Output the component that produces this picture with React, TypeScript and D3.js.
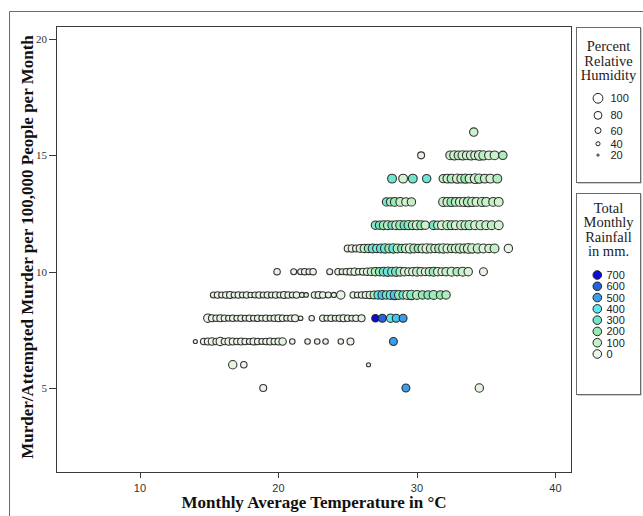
import * as d3 from "d3";

// [temperature °C, relative humidity %, rainfall mm]
type Pt = [number, number, number];

const xTicks = [10, 20, 30, 40];
const yTicks = [5, 10, 15, 20];
const humidityLevels = [100, 80, 60, 40, 20];
const rainLevels = [700, 600, 500, 400, 300, 200, 100, 0];
const rainColors = ["#0b0bdc", "#2462df", "#3d9de8", "#5fe6ee", "#74e6c8", "#98eab4", "#c4f0c6", "#ebf4e7"];

const row5: Pt[] = [[18.9, 70, 0], [29.2, 80, 500], [34.5, 85, 20]];
const row6: Pt[] = [[16.7, 85, 10], [17.5, 65, 0], [26.5, 40, 0]];
const row7: Pt[] = [
  [14.0, 40, 0], [14.6, 65, 0], [14.9, 70, 10], [15.2, 75, 0], [15.5, 65, 0], [15.8, 85, 0], [16.1, 65, 10],
  [16.4, 75, 0], [16.7, 70, 0], [17.0, 65, 0], [17.3, 70, 10], [17.6, 65, 0], [17.9, 60, 0], [18.2, 70, 10],
  [18.5, 65, 0], [18.8, 60, 0], [19.1, 65, 0], [19.4, 70, 10], [19.7, 65, 0], [20.0, 70, 0], [20.3, 75, 20],
  [21.0, 55, 0], [22.1, 55, 0], [22.8, 55, 10], [23.4, 55, 0], [24.5, 55, 0], [25.2, 70, 0], [28.3, 80, 500]
];
const row8: Pt[] = [
  [14.9, 85, 10], [15.2, 70, 0], [15.5, 65, 0], [15.8, 70, 10], [16.1, 65, 0], [16.4, 60, 0], [16.7, 65, 20],
  [17.0, 60, 0], [17.3, 65, 0], [17.6, 60, 10], [17.9, 65, 0], [18.2, 60, 0], [18.5, 65, 10], [18.8, 60, 0],
  [19.1, 65, 0], [19.4, 60, 20], [19.7, 65, 0], [20.0, 70, 10], [20.3, 65, 0], [20.6, 60, 0], [20.9, 65, 10],
  [21.2, 70, 0], [21.6, 45, 0], [22.4, 55, 0], [23.2, 65, 0], [23.5, 60, 10], [23.8, 65, 0], [24.1, 60, 20],
  [24.4, 65, 0], [24.7, 70, 10], [25.0, 65, 0], [25.3, 60, 30], [25.6, 65, 0], [26.0, 70, 10],
  [27.0, 75, 700], [27.5, 80, 600], [28.1, 85, 400], [28.5, 80, 450], [29.0, 80, 500]
];
const row9: Pt[] = [
  [15.3, 60, 0], [15.6, 65, 10], [15.9, 60, 0], [16.2, 65, 0], [16.5, 70, 20], [16.8, 60, 0], [17.1, 65, 10],
  [17.4, 60, 0], [17.7, 65, 0], [18.0, 55, 0], [18.3, 60, 10], [18.6, 65, 0], [18.9, 60, 0], [19.2, 65, 20],
  [19.5, 60, 0], [19.8, 65, 0], [20.1, 60, 10], [20.4, 70, 0], [20.7, 65, 0], [21.0, 60, 20], [21.3, 65, 0],
  [21.7, 50, 0], [22.0, 45, 10], [22.6, 65, 0], [22.9, 70, 10], [23.2, 65, 0], [23.6, 60, 20], [24.0, 50, 0],
  [24.5, 85, 10], [25.4, 65, 0], [25.7, 60, 10], [26.0, 65, 20], [26.3, 70, 0], [26.6, 75, 60], [26.9, 80, 150],
  [27.2, 85, 400], [27.5, 90, 450], [27.8, 85, 300], [28.1, 90, 400], [28.4, 95, 450], [28.7, 90, 200],
  [29.0, 85, 350], [29.3, 90, 100], [29.6, 95, 250], [30.0, 90, 150], [30.4, 85, 200], [30.8, 85, 250],
  [31.2, 90, 180], [31.7, 85, 200], [32.1, 85, 150]
];
const row10: Pt[] = [
  [19.9, 65, 0], [21.1, 60, 0], [21.6, 60, 10], [21.9, 65, 0], [22.2, 60, 20], [22.5, 65, 0], [23.7, 60, 10],
  [24.3, 65, 0], [24.6, 60, 10], [24.9, 65, 0], [25.2, 70, 20], [25.5, 75, 10], [25.8, 65, 0], [26.1, 70, 30],
  [26.4, 75, 20], [26.7, 80, 80], [27.0, 85, 150], [27.3, 85, 200], [27.6, 90, 300], [27.9, 95, 380],
  [28.2, 90, 250], [28.5, 95, 320], [28.8, 90, 150], [29.1, 85, 60], [29.4, 80, 40], [29.7, 85, 20],
  [30.0, 90, 100], [30.3, 85, 60], [30.6, 80, 30], [30.9, 85, 80], [31.2, 90, 200], [31.5, 85, 50],
  [31.8, 80, 20], [32.1, 85, 100], [32.5, 90, 60], [32.9, 85, 150], [33.3, 90, 80], [33.7, 85, 40], [34.8, 80, 10]
];
const row11: Pt[] = [
  [25.0, 70, 0], [25.3, 75, 10], [25.6, 70, 20], [25.9, 80, 40], [26.2, 85, 100], [26.5, 85, 200], [26.8, 90, 350],
  [27.1, 85, 250], [27.4, 90, 400], [27.7, 95, 300], [28.0, 90, 200], [28.3, 95, 350], [28.6, 90, 150],
  [28.9, 85, 250], [29.2, 90, 100], [29.5, 95, 60], [29.8, 90, 150], [30.1, 85, 200], [30.4, 90, 80],
  [30.7, 95, 40], [31.0, 90, 100], [31.3, 85, 60], [31.6, 90, 150], [31.9, 95, 80], [32.2, 90, 40],
  [32.5, 85, 100], [32.8, 90, 60], [33.1, 95, 120], [33.4, 90, 40], [33.7, 100, 80], [34.0, 95, 60],
  [34.4, 95, 100], [34.8, 90, 30], [35.2, 85, 60], [35.6, 90, 100], [36.6, 85, 10]
];
const row12: Pt[] = [
  [27.0, 85, 250], [27.3, 85, 300], [27.6, 90, 200], [27.9, 90, 150], [28.2, 85, 320], [28.5, 90, 100],
  [28.8, 95, 200], [29.1, 90, 300], [29.4, 95, 250], [29.7, 90, 150], [30.0, 95, 100], [30.3, 90, 200],
  [30.6, 85, 80], [31.2, 90, 300], [31.5, 85, 120], [31.8, 90, 60], [32.2, 95, 100], [32.5, 90, 150],
  [32.8, 90, 60], [33.2, 95, 100], [33.5, 90, 80], [33.8, 95, 150], [34.2, 90, 60], [34.6, 95, 100],
  [35.0, 90, 80], [35.4, 90, 120], [35.9, 90, 60]
];
const row13: Pt[] = [
  [27.8, 85, 300], [28.1, 85, 150], [28.4, 90, 200], [28.8, 90, 100], [29.2, 85, 60], [29.6, 85, 100],
  [31.9, 95, 100], [32.2, 90, 60], [32.5, 95, 200], [32.8, 90, 150], [33.1, 90, 80], [33.4, 95, 60],
  [33.7, 100, 150], [34.0, 95, 100], [34.3, 90, 60], [34.7, 95, 120], [35.0, 90, 80], [35.5, 90, 100], [35.9, 90, 60]
];
const row14: Pt[] = [
  [28.2, 90, 320], [29.0, 90, 60], [29.7, 90, 300], [30.7, 85, 350], [31.9, 85, 100], [32.2, 90, 80],
  [32.5, 90, 150], [32.9, 95, 60], [33.2, 90, 100], [33.5, 95, 200], [33.8, 90, 80], [34.2, 100, 60],
  [34.5, 95, 120], [34.9, 90, 100], [35.3, 90, 60], [35.8, 90, 150]
];
const row15: Pt[] = [
  [30.3, 70, 20], [32.4, 90, 100], [32.7, 95, 60], [33.0, 90, 120], [33.3, 95, 80], [33.6, 90, 60],
  [33.9, 95, 100], [34.2, 90, 40], [34.5, 100, 80], [34.8, 95, 120], [35.2, 90, 60], [35.6, 90, 90], [36.2, 85, 150]
];
const row16: Pt[] = [[34.1, 85, 80]];

const rows: [number, Pt[]][] = [
  [5, row5], [6, row6], [7, row7], [8, row8], [9, row9], [10, row10],
  [11, row11], [12, row12], [13, row13], [14, row14], [15, row15], [16, row16]
];

const serif = "'Liberation Serif', 'Times New Roman', serif";
const sans = "'Liberation Sans', Arial, sans-serif";

export default function App() {
  const width = 643;
  const height = 516;
  const plot = { left: 56, right: 571, top: 26, bottom: 472 };

  const x = d3.scaleLinear().domain([3.94, 41.12]).range([plot.left, plot.right]);
  const y = d3.scaleLinear().domain([1.39, 20.56]).range([plot.bottom, plot.top]);
  const r = d3.scaleLinear().domain([20, 100]).range([1.1, 4.9]);
  const color = d3.scaleLinear<string>().domain(rainLevels).range(rainColors).clamp(true);

  // humidity legend rows stacked by circle size
  const humY: number[] = [];
  humidityLevels.forEach((h, i) => {
    if (i === 0) humY.push(98.3);
    else humY.push(humY[i - 1] + r(humidityLevels[i - 1]) + r(h) + 8.2);
  });
  const rainY = d3.scalePoint<number>().domain(rainLevels).range([275, 354]);

  return (
    <svg
      width={width}
      height={height}
      viewBox={`0 0 ${width} ${height}`}
      style={{ position: "absolute", left: 0, top: 0, display: "block", background: "#fff" }}
    >
      <rect x={0} y={0} width={width} height={height} fill="#fff" />
      {/* outer frame */}
      <path d={`M9.5,${height} V11.5 H${width}`} fill="none" stroke="#6b6b6b" strokeWidth={1} />

      {/* plot frame */}
      <rect
        x={plot.left + 0.5}
        y={plot.top + 0.5}
        width={plot.right - plot.left}
        height={plot.bottom - plot.top}
        fill="#fff"
        stroke="#3a3a3a"
        strokeWidth={1}
      />

      {/* y axis */}
      {yTicks.map((t) => (
        <g key={`y${t}`}>
          <line x1={plot.left - 7} x2={plot.left} y1={Math.round(y(t)) + 0.5} y2={Math.round(y(t)) + 0.5} stroke="#3a3a3a" />
          <text x={plot.left - 9} y={y(t) + 4} textAnchor="end" fontFamily={serif} fontSize={11} fill="#333">
            {t}
          </text>
        </g>
      ))}

      {/* x axis */}
      {xTicks.map((t) => (
        <g key={`x${t}`}>
          <line x1={Math.round(x(t)) + 0.5} x2={Math.round(x(t)) + 0.5} y1={plot.bottom} y2={plot.bottom + 6} stroke="#3a3a3a" />
          <text x={x(t)} y={492} textAnchor="middle" fontFamily={sans} fontSize={11} fill="#333">
            {t}
          </text>
        </g>
      ))}

      {/* points */}
      <g>
        {rows.map(([v, pts]) =>
          pts.map(([t, h, rain], i) => (
            <circle
              key={`${v}-${i}`}
              cx={x(t)}
              cy={y(v)}
              r={r(h)}
              fill={color(rain)}
              stroke="#1e1e1e"
              strokeOpacity={0.9}
              strokeWidth={1.1}
            />
          ))
        )}
      </g>

      {/* axis titles */}
      <text x={314} y={508} textAnchor="middle" fontFamily={serif} fontWeight="bold" fontSize={17} fill="#111">
        Monthly Average Temperature in °C
      </text>
      <text
        transform={`translate(33,247) rotate(-90)`}
        textAnchor="middle"
        fontFamily={serif}
        fontWeight="bold"
        fontSize={17}
        fill="#111"
      >
        Murder/Attempted Murder per 100,000 People per Month
      </text>

      {/* humidity legend */}
      <rect x={577.5} y={28.5} width={64} height={155} fill="#9a9a9a" />
      <rect x={576.5} y={27.5} width={64} height={155} fill="#fff" stroke="#6b6b6b" />
      {["Percent", "Relative", "Humidity"].map((s, i) => (
        <text key={s} x={608.5} y={51 + i * 14.6} textAnchor="middle" fontFamily={serif} fontSize={14.5} fill="#222">
          {s}
        </text>
      ))}
      {humidityLevels.map((h, i) => (
        <g key={`h${h}`}>
          <circle cx={598} cy={humY[i]} r={r(h)} fill="#fff" stroke="#222" strokeWidth={1} />
          <text x={610.5} y={humY[i] + 4} fontFamily={sans} fontSize={11} fill="#222">
            {h}
          </text>
        </g>
      ))}

      {/* rainfall legend */}
      <rect x={577.5} y={194.5} width={64} height={201} fill="#9a9a9a" />
      <rect x={576.5} y={193.5} width={64} height={201} fill="#fff" stroke="#6b6b6b" />
      {["Total", "Monthly", "Rainfall", "in mm."].map((s, i) => (
        <text key={s} x={608.5} y={212.5 + i * 14.5} textAnchor="middle" fontFamily={serif} fontSize={14.5} fill="#222">
          {s}
        </text>
      ))}
      {rainLevels.map((v) => (
        <g key={`r${v}`}>
          <circle cx={597.3} cy={rainY(v)} r={4.3} fill={color(v)} stroke="#222" strokeWidth={1} />
          <text x={606.5} y={(rainY(v) ?? 0) + 4} fontFamily={sans} fontSize={11} fill="#222">
            {v}
          </text>
        </g>
      ))}
    </svg>
  );
}
